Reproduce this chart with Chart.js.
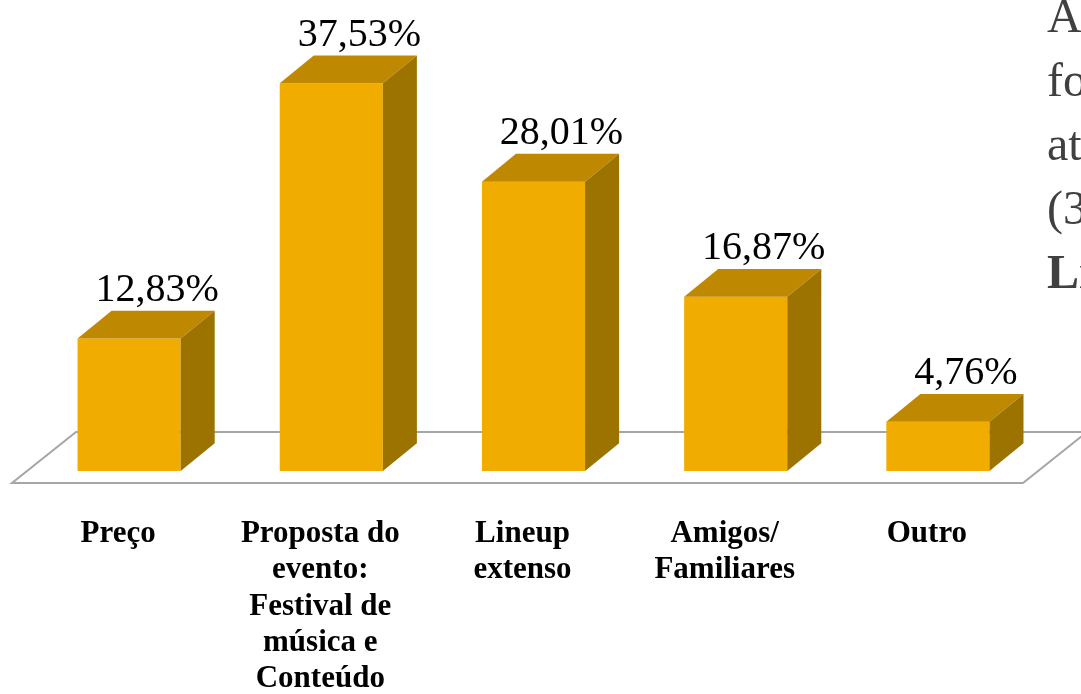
<!DOCTYPE html>
<html>
<head>
<meta charset="utf-8">
<script src="https://cdn.jsdelivr.net/npm/chart.js@4.4.1/dist/chart.umd.min.js"></script>
<style>
  html, body { margin: 0; padding: 0; background: #fff; }
  #wrap { width: 1081px; height: 694px; position: relative; }
</style>
</head>
<body>
<div id="wrap"><canvas id="c"></canvas></div>
<script>
var categories = [
  "Preço",
  ["Proposta do", "evento:", "Festival de", "música e", "Conteúdo"],
  ["Lineup", "extenso"],
  ["Amigos/", "Familiares"],
  "Outro"
];
var values = [12.83, 37.53, 28.01, 16.87, 4.76];
var valueLabels = ["12,83%", "37,53%", "28,01%", "16,87%", "4,76%"];
var sideText = [["A", false], ["fo", false], ["at", false], ["(3", false], ["Li", true]];

var FRONT = "#f0ad00", TOP = "#be8900", SIDE = "#9d7300";
var SERIF = "'Liberation Serif', 'DejaVu Serif', serif";

var floorPlugin = {
  id: "floor",
  beforeDatasetsDraw(chart) {
    var a = chart.chartArea, c = chart.ctx, b = a.bottom;
    var fl = a.left - 16, fr = a.right - 16, fy = b + 12, dx = 64, dy = 51;
    c.save();
    c.strokeStyle = "#a6a6a6";
    c.lineWidth = 2;
    c.beginPath();
    c.moveTo(fl, fy);
    c.lineTo(fr, fy);
    c.lineTo(fr + dx, fy - dy);
    c.lineTo(fl + dx, fy - dy);
    c.closePath();
    c.stroke();
    c.restore();
  }
};

var boxPlugin = {
  id: "box3d",
  afterDatasetsDraw(chart) {
    var c = chart.ctx, meta = chart.getDatasetMeta(0);
    c.save();
    meta.data.forEach(function (bar, i) {
      var w = bar.width, l = bar.x - w / 2, r = bar.x + w / 2,
        t = bar.y, base = bar.base, dx = w * 0.33, dy = w * 0.27;
      c.fillStyle = TOP;
      c.beginPath();
      c.moveTo(l, t); c.lineTo(r, t); c.lineTo(r + dx, t - dy); c.lineTo(l + dx, t - dy);
      c.closePath(); c.fill();
      c.fillStyle = SIDE;
      c.beginPath();
      c.moveTo(r, t); c.lineTo(r + dx, t - dy); c.lineTo(r + dx, base - dy); c.lineTo(r, base);
      c.closePath(); c.fill();
      c.fillStyle = "#000";
      c.font = "40px " + SERIF;
      c.textAlign = "center";
      c.textBaseline = "alphabetic";
      c.fillText(valueLabels[i], bar.x + dx / 2 + 11, t - dy - 10);
    });
    // clipped text box from the slide, to the right of the chart
    c.fillStyle = "#404040";
    c.textAlign = "left";
    sideText.forEach(function (s, i) {
      c.font = (s[1] ? "bold " : "") + "48px " + SERIF;
      c.fillText(s[0], 1047, 32 + i * 64);
    });
    c.restore();
  }
};

new Chart(document.getElementById("c"), {
  type: "bar",
  data: {
    labels: categories,
    datasets: [{
      data: values,
      backgroundColor: FRONT,
      borderWidth: 0,
      categoryPercentage: 1,
      barPercentage: 0.51
    }]
  },
  options: {
    responsive: true,
    maintainAspectRatio: false,
    animation: false,
    layout: { padding: { left: 28, right: 42, top: 0, bottom: 0 } },
    plugins: { legend: { display: false }, tooltip: { enabled: false } },
    scales: {
      y: { display: false, min: 0, max: 45.6 },
      x: {
        grid: { display: false },
        border: { display: false },
        ticks: {
          color: "#000",
          padding: 37,
          labelOffset: -11,
          maxRotation: 0,
          autoSkip: false,
          font: { family: SERIF, size: 31, weight: "bold", lineHeight: 1.17 }
        },
        afterFit(scale) { scale.height = 223; }
      }
    }
  },
  plugins: [floorPlugin, boxPlugin]
});
</script>
</body>
</html>
